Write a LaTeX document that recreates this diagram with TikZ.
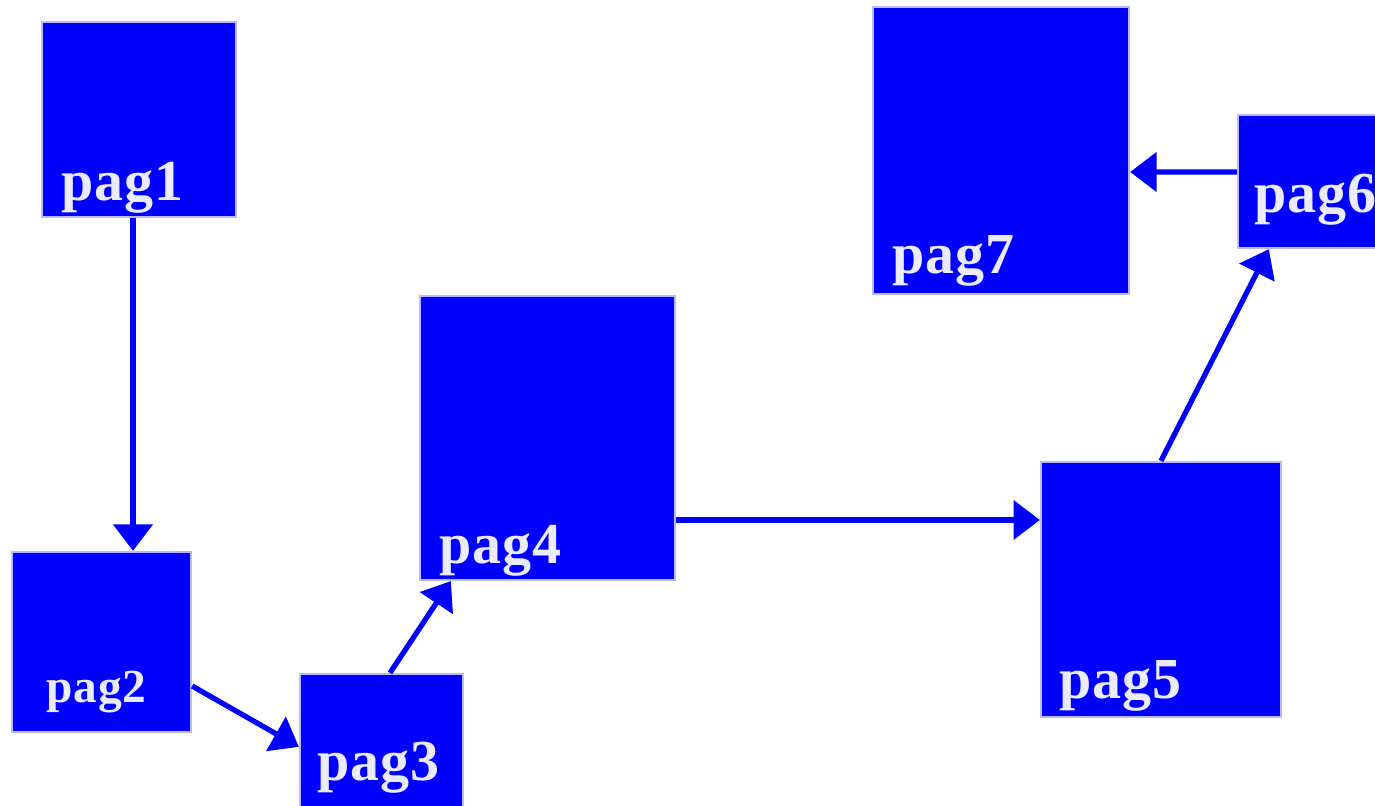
\documentclass[tikz,border=0pt]{standalone}
\usepackage{fontspec}
\setmainfont{Liberation Serif}[LetterSpace=2]
\usetikzlibrary{arrows.meta}
\definecolor{pagblue}{RGB}{0,0,255}
\definecolor{pagedge}{RGB}{185,185,255}
\definecolor{pagtext}{RGB}{235,235,255}

\begin{document}
\begin{tikzpicture}[
  page/.style={draw=pagedge, line width=1.3pt, fill=pagblue, inner sep=0pt},
  pagelabel/.style={anchor=base west, inner sep=0pt, text=pagtext, font=\fontsize{33}{36}\selectfont\bfseries},
  link/.style={draw=pagblue, line width=3pt, -{Triangle[length=15pt, width=22pt]}}
]
  \useasboundingbox (0,0) rectangle (27.5,16.1);

  % Page boxes
  \node[page, minimum width=3.88cm, minimum height=3.90cm] (pag1) at (2.78,13.71) {};
  \node[page, minimum width=3.58cm, minimum height=3.60cm] (pag2) at (2.03,3.26) {};
  \node[page, minimum width=3.26cm, minimum height=3.26cm] (pag3) at (7.63,0.99) {};
  \node[page, minimum width=5.10cm, minimum height=5.68cm] (pag4) at (10.95,7.34) {};
  \node[page, minimum width=4.80cm, minimum height=5.10cm] (pag5) at (23.22,4.31) {};
  \node[page, minimum width=3.00cm, minimum height=2.66cm] (pag6) at (26.26,12.47) {};
  \node[page, minimum width=5.12cm, minimum height=5.74cm] (pag7) at (20.02,13.09) {};

  % Labels, bottom left of each box
  \node[pagelabel] (pag1txt) at ([shift={(0.40,0.36)}]pag1.south west) {pag1};
  \node[pagelabel, font=\fontsize{27}{30}\selectfont\bfseries] (pag2txt) at ([shift={(0.70,0.62)}]pag2.south west) {pag2};
  \node[pagelabel] (pag3txt) at ([shift={(0.36,-2.16)}]pag3.north west) {pag3};
  \node[pagelabel] (pag4txt) at ([shift={(0.40,0.36)}]pag4.south west) {pag4};
  \node[pagelabel] (pag5txt) at ([shift={(0.38,0.40)}]pag5.south west) {pag5};
  \node[pagelabel] (pag6txt) at ([shift={(0.34,0.74)}]pag6.south west) {pag6};
  \node[pagelabel] (pag7txt) at ([shift={(0.40,0.44)}]pag7.south west) {pag7};

  % Links between pages
  \draw[link] ([xshift=-0.12cm]pag1.south) -- ([xshift=0.63cm]pag2.north);
  \draw[link] ([yshift=-0.88cm]pag2.east) -- ([yshift=-1.48cm]pag3.north west);
  \draw[link] ([xshift=0.17cm]pag3.north) -- ([xshift=0.64cm]pag4.south west);
  \draw[link] ([yshift=-1.64cm]pag4.east) -- ([yshift=1.39cm]pag5.west);
  \draw[link] (pag5.north) -- ([xshift=0.64cm]pag6.south west);
  \draw[link] ([yshift=0.19cm]pag6.west) -- ([yshift=-0.43cm]pag7.east);
\end{tikzpicture}
\end{document}
